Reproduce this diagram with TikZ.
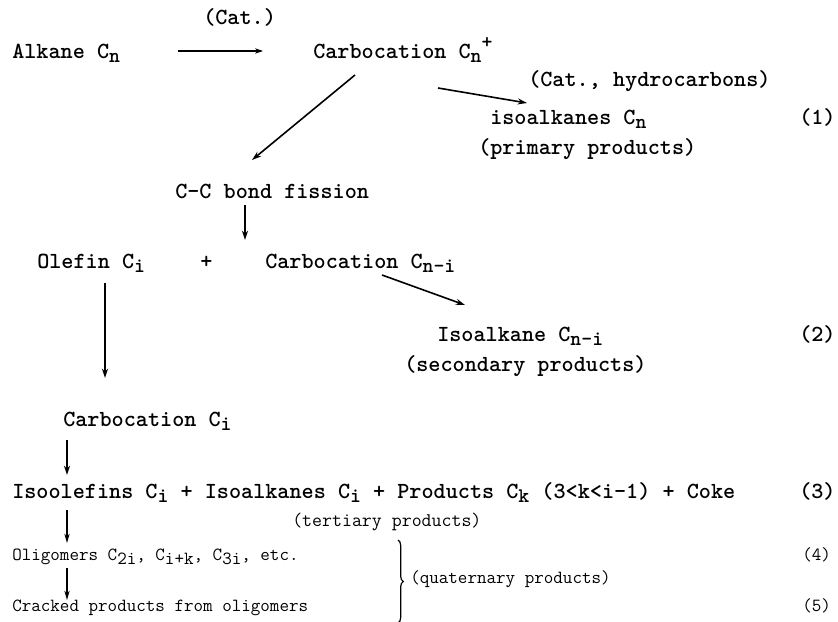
\documentclass[tikz,border=0pt]{standalone}
\usepackage{graphicx}
\usetikzlibrary{arrows.meta,calc,decorations.pathreplacing}
\newcommand\dnscale{0.9}
\newcommand\dn[1]{\raisebox{-0.5ex}{\scalebox{\dnscale}{#1}}}
\newcommand\up[1]{\raisebox{0.95ex}{\scalebox{0.9}{#1}}}
\begin{document}
\begin{tikzpicture}[x=0.75pt,y=-0.75pt,
  big/.style={anchor=base west,inner sep=0pt,font=\fontsize{17.3}{20}\selectfont\ttfamily\bfseries},
  small/.style={anchor=base west,inner sep=0pt,font=\fontsize{13.9}{16}\selectfont\ttfamily\renewcommand\dnscale{1}},
  arr/.style={-{Stealth[length=7pt,width=4.5pt]},line width=1.2pt},
  thinarr/.style={-{Stealth[length=6pt,width=4pt]},line width=0.8pt},
  lowarr/.style={-{Stealth[length=7pt,width=4pt]},line width=1pt}]
\useasboundingbox (0,0) rectangle (838,621);

\node[big] (cat) at (203,24) {(Cat.)};
\node[big] (alkane) at (12,58) {Alkane C\dn{n}};
\node[big] (carb) at (313,58) {Carbocation C\dn{n}\up{+}};
\node[big] (cathc) at (528,86) {(Cat., hydrocarbons)};
\node[big] (iso1) at (490,124) {isoalkanes C\dn{n}};
\node[big] (eq1) at (799,124) {(1)};
\node[big] (prim) at (478,154) {(primary products)};
\node[big] (ccb) at (175,198) {C-C bond fission};
\node[big] (olefin) at (37,268) {Olefin C\dn{i}};
\node[big] (plus) at (200,268) {+};
\node[big] (carb2) at (265,268) {Carbocation C\dn{n-i}};
\node[big] (iso2) at (437,341) {Isoalkane C\dn{n-i}};
\node[big] (eq2) at (799,341) {(2)};
\node[big] (sec) at (404,371) {(secondary products)};
\node[big] (carbi) at (63,426) {Carbocation C\dn{i}};
\node[big] (isool) at (12,498) {Isoolefins C\dn{i} + Isoalkanes C\dn{i} + Products C\dn{k} (3<k<i-1) + Coke};
\node[big] (eq3) at (799,498) {(3)};
\node[small,font=\fontsize{14.5}{16}\selectfont\ttfamily] (tert) at (292,526) {(tertiary products)};
\node[small] (olig) at (12,560) {Oligomers C\dn{2i}, C\dn{i+k}, C\dn{3i}, etc.};
\node[small] (eq4) at (802,560) {(4)};
\node[small] (quat) at (410,583) {(quaternary products)};
\node[small] (crack) at (12,611) {Cracked products from oligomers};
\node[small] (eq5) at (802,611) {(5)};

\draw[thinarr] ($(alkane.base west)+(166,-7)$) -- ($(carb.base west)+(-50,-7)$);
\draw[arr] ($(carb.base west)+(42,17)$) -- ($(ccb.base west)+(77,-38)$);
\draw[arr] ($(carb.base west)+(125,30)$) -- ($(iso1.base west)+(37,-21)$);
\draw[arr] ($(ccb.base west)+(70,7)$) -- ($(ccb.base west)+(70,42)$);
\draw[arr] ($(carb2.base west)+(117,7)$) -- ($(iso2.base west)+(28,-36)$);
\draw[arr] ($(olefin.base west)+(68,15)$) -- ($(carbi.base west)+(42,-48)$);
\draw[arr] ($(carbi.base west)+(4,14)$) -- ($(isool.base west)+(55,-23)$);
\draw[lowarr] ($(isool.base west)+(55,12)$) -- ($(olig.base west)+(55,-17)$);
\draw[lowarr] ($(olig.base west)+(55,8)$) -- ($(crack.base west)+(55,-11)$);
\draw[line width=0.9pt,decorate,decoration={brace,amplitude=4pt}]
  ($(quat.base west)+(-12,-43)$) -- ($(quat.base west)+(-12,40)$);
\end{tikzpicture}
\end{document}
